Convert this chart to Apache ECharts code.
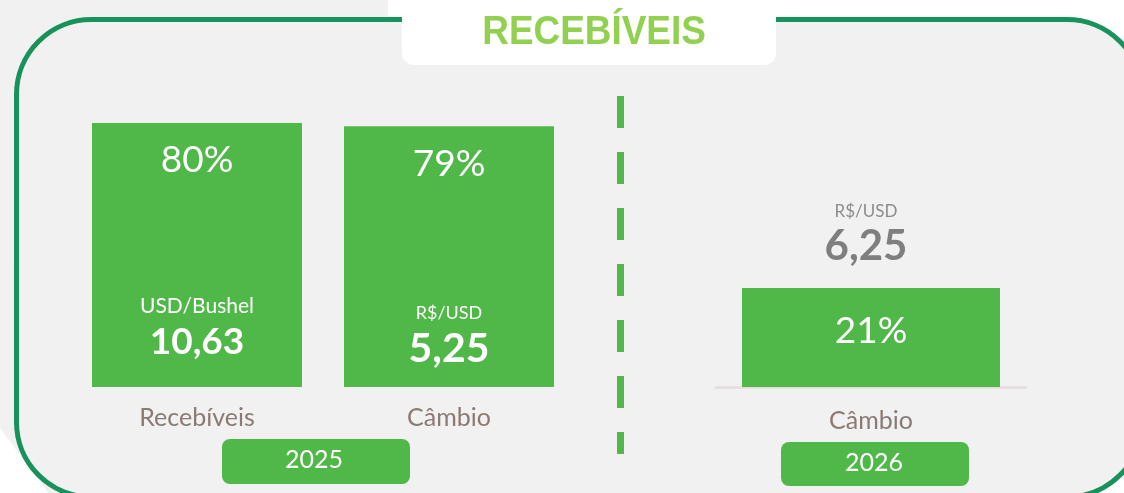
<!DOCTYPE html>
<html>
<head>
<meta charset="utf-8">
<script src="https://cdn.jsdelivr.net/npm/echarts@6/dist/echarts.min.js"></script>
<style>
html,body{margin:0;padding:0;background:#ffffff;}
#chart{width:1124px;height:493px;}
</style>
</head>
<body>
<div id="chart"></div>
<script>
// ---- data ----
var titleText = 'RECEBÍVEIS';
var categories2025 = ['Recebíveis', 'Câmbio'];
var hedge2025 = [80, 79];
var units2025 = ['USD/Bushel', 'R$/USD'];
var prices2025 = ['10,63', '5,25'];
var categories2026 = ['Câmbio'];
var hedge2026 = [21];
var units2026 = ['R$/USD'];
var prices2026 = ['6,25'];
var years = ['2025', '2026'];

// ---- styles ----
var GREEN = '#50b848';
var BORDER = '#17925a';
var GRAY_BG = '#f1f1f1';
var CAT_COLOR = '#8a7a74';
var FONT = 'Lato, "Noto Sans", sans-serif';

var bottomLabelDist = [25, 18];
var priceSizes = [37, 41];
var unitSizes = [21, 18];

var chart = echarts.init(document.getElementById('chart'), null, {renderer: 'canvas'});

function rich2025() {
  var r = {};
  for (var i = 0; i < units2025.length; i++) {
    r['u' + i] = {color: '#ffffff', fontSize: unitSizes[i], lineHeight: 31, fontFamily: FONT, align: 'center'};
    r['p' + i] = {color: '#ffffff', fontSize: priceSizes[i], fontWeight: 'bold', lineHeight: 40, fontFamily: FONT, align: 'center'};
  }
  return r;
}

var option = {
  animation: false,
  backgroundColor: '#ffffff',
  graphic: [
    // gray backdrop on the left
    {type: 'polygon', z: -20, shape: {points: [[0,0],[388,0],[388,40],[120,40],[120,493],[48,493],[0,428]]}, style: {fill: GRAY_BG}},
    // main rounded frame
    {type: 'rect', z: -10, shape: {x: 16.5, y: 19.5, width: 1125.5, height: 477.5, r: 75}, style: {fill: GRAY_BG, stroke: BORDER, lineWidth: 5}},
    // title box
    {type: 'rect', z: 5, shape: {x: 402, y: -20, width: 374, height: 85, r: 12}, style: {fill: '#ffffff'}},
    {type: 'text', z: 6, x: 594, y: 33, scaleX: 0.9, style: {text: titleText, x: 0, y: 0, align: 'center', verticalAlign: 'middle', fontSize: 41, fontWeight: 'bold', fontFamily: '"Liberation Sans", sans-serif', fill: '#92d050'}},
    // dashed divider
    {type: 'line', z: 5, shape: {x1: 620.5, y1: 96, x2: 620.5, y2: 454}, style: {stroke: GREEN, lineWidth: 7, lineDash: [32, 24], lineCap: 'butt'}},
    // year boxes
    {type: 'rect', z: 5, shape: {x: 222, y: 439, width: 188, height: 45, r: 8}, style: {fill: GREEN}},
    {type: 'text', z: 6, style: {text: years[0], x: 314, y: 460, align: 'center', verticalAlign: 'middle', fontSize: 25, fontFamily: FONT, fill: '#ffffff'}},
    {type: 'rect', z: 5, shape: {x: 781, y: 442, width: 188, height: 44, r: 8}, style: {fill: GREEN}},
    {type: 'text', z: 6, style: {text: years[1], x: 874, y: 463, align: 'center', verticalAlign: 'middle', fontSize: 25, fontFamily: FONT, fill: '#ffffff'}}
  ],
  grid: [
    {left: 71, top: 57, width: 504, height: 330},
    {left: 716, top: 57, width: 310, height: 330}
  ],
  xAxis: [
    {type: 'category', gridIndex: 0, data: categories2025,
     axisLine: {show: false}, axisTick: {show: false},
     axisLabel: {color: CAT_COLOR, fontSize: 25, lineHeight: 25, margin: 18, fontFamily: FONT}},
    {type: 'category', gridIndex: 1, data: categories2026,
     axisLine: {show: true, lineStyle: {color: '#e2dddd', width: 2.5}}, axisTick: {show: false},
     axisLabel: {color: CAT_COLOR, fontSize: 25, lineHeight: 25, margin: 21, fontFamily: FONT}}
  ],
  yAxis: [
    {type: 'value', gridIndex: 0, min: 0, max: 100, show: false, splitLine: {show: false}},
    {type: 'value', gridIndex: 1, min: 0, max: 70, show: false, splitLine: {show: false}}
  ],
  series: [
    {type: 'bar', xAxisIndex: 0, yAxisIndex: 0, data: hedge2025, barWidth: 210, itemStyle: {color: GREEN},
     label: {show: true, position: 'insideTop', distance: 19, formatter: '{c}%', color: '#ffffff', fontSize: 37, lineHeight: 37, fontFamily: FONT}},
    {type: 'bar', xAxisIndex: 0, yAxisIndex: 0, barGap: '-100%', barWidth: 210, itemStyle: {color: 'rgba(0,0,0,0)'},
     data: hedge2025.map(function (v, i) { return {value: v, label: {distance: bottomLabelDist[i]}}; }),
     label: {show: true, position: 'insideBottom',
       formatter: function (p) { var i = p.dataIndex; return '{u' + i + '|' + units2025[i] + '}\n{p' + i + '|' + prices2025[i] + '}'; },
       rich: rich2025()}},
    {type: 'bar', xAxisIndex: 1, yAxisIndex: 1, data: hedge2026, barWidth: 258, itemStyle: {color: GREEN},
     label: {show: true, position: 'inside', offset: [0, -6], formatter: '{c}%', color: '#ffffff', fontSize: 37, fontFamily: FONT}},
    {type: 'bar', xAxisIndex: 1, yAxisIndex: 1, data: hedge2026, barGap: '-100%', barWidth: 258, itemStyle: {color: 'rgba(0,0,0,0)'},
     label: {show: true, position: 'top', distance: 22, offset: [-5, 0],
       formatter: function (p) { return '{u|' + units2026[p.dataIndex] + '}\n{p|' + prices2026[p.dataIndex] + '}'; },
       rich: {
         u: {color: '#8c8c8c', fontSize: 17, lineHeight: 28, fontFamily: FONT, align: 'center'},
         p: {color: '#7f7f7f', fontSize: 42, fontWeight: 'bold', lineHeight: 40, fontFamily: FONT, align: 'center'}
       }}}
  ]
};
chart.setOption(option);
</script>
</body>
</html>
